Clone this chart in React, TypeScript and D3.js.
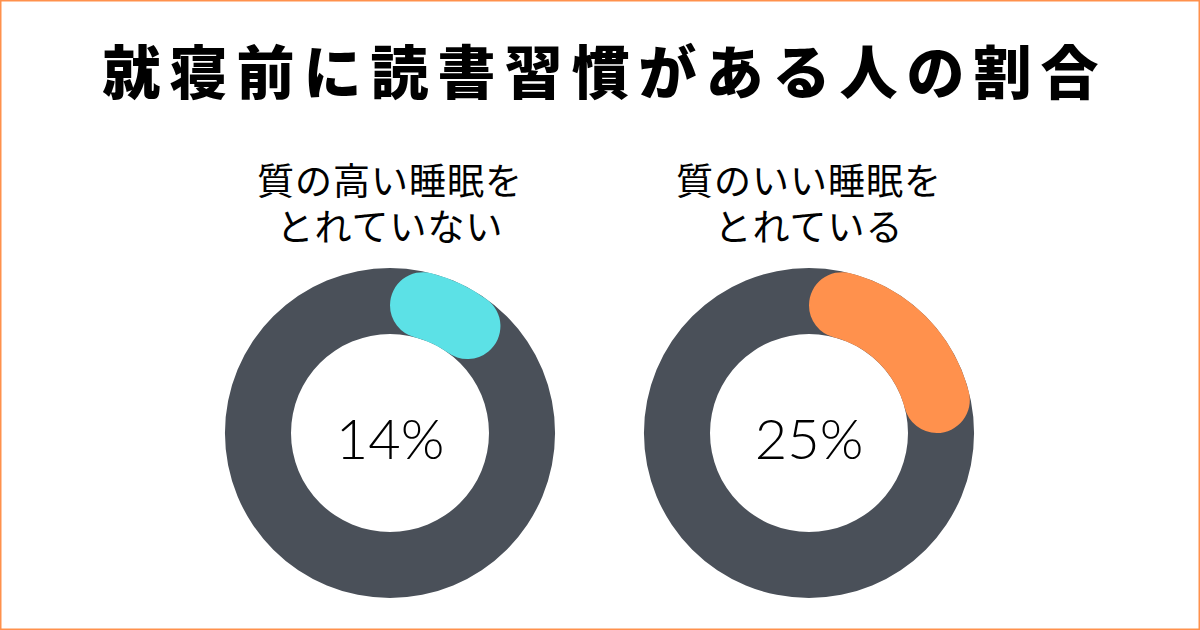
import React from "react";
import * as d3 from "d3";

const W = 1200;
const H = 630;

const title = "就寝前に読書習慣がある人の割合";
const categories = [
  ["質の高い睡眠を", "とれていない"],
  ["質のいい睡眠を", "とれている"],
];
const values = [14, 25];
const valueLabels = ["14%", "25%"];
const colors = ["#5ce1e6", "#ff914d"];
const trackColor = "#4a5059";

export default function App() {
  const x = d3.scalePoint<number>().domain([0, 1]).range([390, 809]);
  const angle = d3.scaleLinear().domain([0, 100]).range([0, 2 * Math.PI]);
  const rOuter = 165;
  const rInner = 99;
  const cy = 433;
  const track = d3.arc<any>().innerRadius(rInner).outerRadius(rOuter).startAngle(0).endAngle(2 * Math.PI);
  const valArc = d3
    .arc<any>()
    .innerRadius(rInner)
    .outerRadius(rOuter)
    .cornerRadius((rOuter - rInner) / 2);

  return (
    <svg
      width={W}
      height={H}
      style={{ position: "absolute", left: 0, top: 0, display: "block", background: "#fff" }}
    >
      <rect x={0} y={0} width={W} height={H} fill="#fff" />
      <rect x={0.75} y={0.75} width={W - 1.5} height={H - 1.5} fill="none" stroke="#ff914d" strokeWidth={1.5} />
      <text
        x={W / 2 + 5}
        y={69}
        textAnchor="middle"
        dominantBaseline="central"
        fontFamily="'Noto Sans CJK JP', sans-serif"
        fontWeight={900}
        fontSize={58}
        letterSpacing={9}
        fill="#000"
      >
        {title}
      </text>
      {values.map((v, i) => {
        const cx = x(i)!;
        return (
          <g key={i}>
            <text
              textAnchor="middle"
              dominantBaseline="central"
              fontFamily="'Noto Sans CJK JP', sans-serif"
              fontWeight={400}
              fontSize={37}
              letterSpacing={1}
              fill="#000"
            >
              {categories[i].map((line, j) => (
                <tspan key={j} x={cx} y={179 + j * 46}>
                  {line}
                </tspan>
              ))}
            </text>
            <g transform={`translate(${cx},${cy})`}>
              <path d={track({}) || ""} fill={trackColor} />
              <path d={valArc({ startAngle: angle(0), endAngle: angle(v) }) || ""} fill={colors[i]} />
              <text
                x={0}
                y={4}
                textAnchor="middle"
                dominantBaseline="central"
                fontFamily="Lato, sans-serif"
                fontWeight={300}
                fontSize={56}
                fill="#000"
              >
                {valueLabels[i]}
              </text>
            </g>
          </g>
        );
      })}
    </svg>
  );
}
